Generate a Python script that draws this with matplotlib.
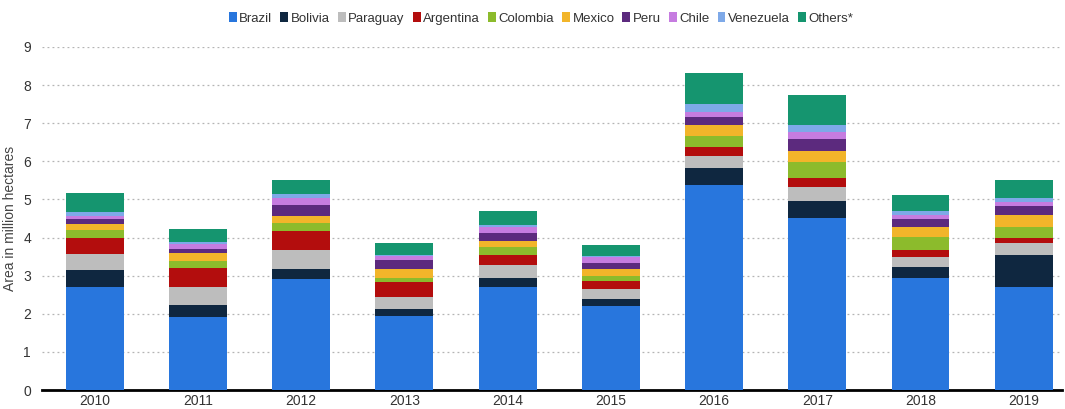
import numpy as np
import matplotlib.pyplot as plt
from matplotlib.patches import Patch

plt.rcParams['font.family'] = ['Liberation Sans', 'DejaVu Sans']

years = ['2010', '2011', '2012', '2013', '2014', '2015', '2016', '2017', '2018', '2019']
countries = ['Brazil', 'Bolivia', 'Paraguay', 'Argentina', 'Colombia',
             'Mexico', 'Peru', 'Chile', 'Venezuela', 'Others*']

brazil    = [2.69, 1.92, 2.91, 1.93, 2.69, 2.20, 5.37, 4.51, 2.93, 2.70]
bolivia   = [0.45, 0.32, 0.27, 0.20, 0.24, 0.18, 0.46, 0.46, 0.31, 0.84]
paraguay  = [0.44, 0.46, 0.49, 0.32, 0.35, 0.28, 0.32, 0.35, 0.26, 0.31]
argentina = [0.40, 0.50, 0.50, 0.38, 0.25, 0.19, 0.23, 0.24, 0.17, 0.15]
colombia  = [0.21, 0.19, 0.21, 0.12, 0.22, 0.15, 0.29, 0.42, 0.35, 0.27]
mexico    = [0.16, 0.20, 0.18, 0.23, 0.16, 0.18, 0.28, 0.28, 0.27, 0.32]
peru      = [0.14, 0.12, 0.29, 0.22, 0.22, 0.16, 0.22, 0.32, 0.21, 0.24]
chile     = [0.08, 0.12, 0.19, 0.12, 0.16, 0.14, 0.13, 0.20, 0.09, 0.09]
venezuela = [0.09, 0.05, 0.09, 0.02, 0.03, 0.04, 0.20, 0.18, 0.10, 0.12]
others    = [0.52, 0.34, 0.39, 0.33, 0.38, 0.29, 0.81, 0.77, 0.42, 0.48]

series = [brazil, bolivia, paraguay, argentina, colombia,
          mexico, peru, chile, venezuela, others]
colors = ['#2876dd', '#0f2740', '#bdbdbd', '#b30d0d', '#8cbb2c',
          '#f2b52a', '#5c2a7e', '#c67ce0', '#7ea9e8', '#15956f']

fig = plt.figure(figsize=(10.65, 4.09), dpi=100)
ax = fig.add_axes([42 / 1065, 19 / 409, 1020 / 1065, 343 / 409])

x = np.arange(len(years))
bottom = np.zeros(len(years))
for vals, col in zip(series, colors):
    ax.bar(x, vals, 0.56, bottom=bottom, color=col, zorder=3)
    bottom += np.array(vals)

ax.set_ylim(0, 9)
ax.set_xlim(-0.51, 9.37)
ax.set_yticks(range(10))
ax.set_xticks(x)
ax.set_xticklabels(years)
ax.yaxis.grid(True, linestyle=(0, (1.5, 2.5)), color='#b4b4b4', linewidth=0.9, zorder=0)
for s in ['top', 'right', 'left']:
    ax.spines[s].set_visible(False)
ax.spines['bottom'].set_linewidth(2)
ax.spines['bottom'].set_color('black')
ax.tick_params(axis='both', length=0, labelsize=10, colors='#333333', pad=8)
ax.tick_params(axis='x', pad=3)
ax.set_ylabel('Area in million hectares', fontsize=10, color='#444444', labelpad=4)

# legend on top, small square markers
handles = [Patch(facecolor=c, label=n) for n, c in zip(countries, colors)]
fig.legend(handles=handles, loc='center', bbox_to_anchor=(0.508, 0.955), ncol=10,
           frameon=False, fontsize=9.5, handlelength=0.6, handleheight=0.8,
           handletextpad=0.2, columnspacing=0.6, labelcolor='#333333')

fig.savefig('out.png', dpi=100)
